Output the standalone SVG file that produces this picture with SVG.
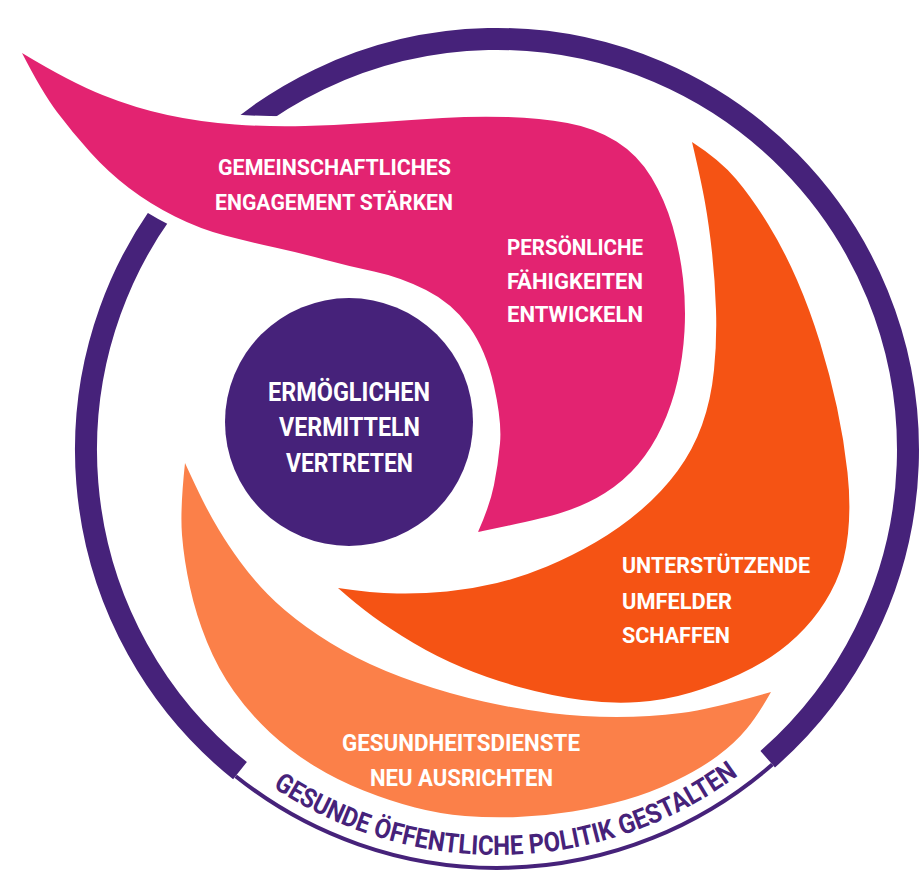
<svg xmlns="http://www.w3.org/2000/svg" width="923" height="879" viewBox="0 0 923 879">
<defs>
<style>
.lbl{font-family:Roboto,"Liberation Sans",Arial,sans-serif;font-weight:700;fill:#ffffff;}
.s22{font-size:22.5px}
.s23{font-size:23px}
.s25{font-size:25px}
.ringline{fill:none;stroke:#46227A}
.ringtxt{font-family:Roboto,"Liberation Sans",Arial,sans-serif;font-weight:700;font-size:27px;fill:#46227A}
</style>
<path id="arcText" d="M236.7,760.2 A405,405 0 0 0 783.4,736.4"/>
</defs>
<rect width="923" height="879" fill="#ffffff"/>
<g id="outer-ring">
<path class="ringline" stroke-width="22" d="M240.0,770.7 A411,411 0 1 1 767.7,759.2"/>
<path class="ringline" stroke-width="4" d="M235.7,776.2 A418,418 0 0 0 772.3,764.5"/>
<text class="ringtxt"><textPath href="#arcText" startOffset="45.2" textLength="104.7" lengthAdjust="spacingAndGlyphs">GESUNDE</textPath></text>
<text class="ringtxt"><textPath href="#arcText" startOffset="156" textLength="153.3" lengthAdjust="spacingAndGlyphs">ÖFFENTLICHE</textPath></text>
<text class="ringtxt"><textPath href="#arcText" startOffset="315.4" textLength="88" lengthAdjust="spacingAndGlyphs">POLITIK</textPath></text>
<text class="ringtxt"><textPath href="#arcText" startOffset="409.5" textLength="131.7" lengthAdjust="spacingAndGlyphs">GESTALTEN</textPath></text>
</g>
<g id="node-pink">
<path fill="#E32371" stroke="#ffffff" stroke-width="20" paint-order="stroke" d="M22,53 Q70,82 102.5,95 Q135,108 167.5,115 Q200,122 235,124.5 Q270,127 305,126 Q340,125 375,122.5 Q410,120 442.5,118 Q475,116 507.5,117 Q540,118 567.5,123 Q595,128 616.5,141.5 Q638,155 651.5,177.5 Q665,200 672.5,226 Q680,252 683,278.5 Q686,305 684.5,331 Q683,357 677.5,381 Q672,405 662,426.5 Q652,448 638,464.5 Q624,481 605,493 Q586,505 562,512.5 Q538,520 478,532 Q490,505 494,485 Q498,465 500,443.5 Q502,422 494,386 Q486,350 469,326.5 Q452,303 426,290 Q400,277 374,271.5 Q348,266 324,259.5 Q300,253 275,247.5 Q250,242 225,235.5 Q200,229 175,216.5 Q150,204 129,188 Q108,172 90,152 Q72,132 57,112 Q42,92 22,53 Z"/>
<text class="lbl s22" x="218" y="175" textLength="233" lengthAdjust="spacingAndGlyphs">GEMEINSCHAFTLICHES</text>
<text class="lbl s22" x="215" y="210" textLength="238" lengthAdjust="spacingAndGlyphs">ENGAGEMENT STÄRKEN</text>
<text class="lbl s22" x="507" y="255" textLength="136" lengthAdjust="spacingAndGlyphs">PERSÖNLICHE</text>
<text class="lbl s22" x="507" y="289" textLength="136" lengthAdjust="spacingAndGlyphs">FÄHIGKEITEN</text>
<text class="lbl s22" x="507" y="322" textLength="136" lengthAdjust="spacingAndGlyphs">ENTWICKELN</text>
</g>
<g id="node-orange">
<path fill="#F55314" d="M692,142 Q720,160 736,179 Q752,198 768,224 Q784,250 797,280 Q810,310 820,342.5 Q830,375 837,407.5 Q844,440 847.5,472.5 Q851,505 848,533.5 Q845,562 835.5,582.5 Q826,603 812,620 Q798,637 780,650.5 Q762,664 739,674.5 Q716,685 691,692.5 Q666,700 639,702 Q612,704 582,700 Q552,696 521,687.5 Q490,679 463.5,668 Q437,657 413.5,643 Q390,629 373,616.5 Q356,604 338,588 Q372,593 397,593.5 Q422,594 447,591.5 Q472,589 497,583 Q522,577 547,566.5 Q572,556 596,542 Q620,528 641,510 Q662,492 677.5,471 Q693,450 702,425 Q711,400 714,370 Q717,340 716,310 Q715,280 712,252.5 Q709,225 705,202.5 Q701,180 692,142 Z"/>
<text class="lbl s22" x="622" y="573" textLength="188" lengthAdjust="spacingAndGlyphs">UNTERSTÜTZENDE</text>
<text class="lbl s22" x="622" y="609" textLength="110" lengthAdjust="spacingAndGlyphs">UMFELDER</text>
<text class="lbl s22" x="622" y="643" textLength="108" lengthAdjust="spacingAndGlyphs">SCHAFFEN</text>
</g>
<g id="node-lightorange">
<path fill="#FB8049" d="M185,463 Q196,487 203,501 Q210,515 219,530 Q228,545 240,561.5 Q252,578 267.5,594 Q283,610 306.5,627 Q330,644 356.5,657.5 Q383,671 416.5,682.5 Q450,694 483.5,701.5 Q517,709 550,713 Q583,717 616.5,717 Q650,717 681,713 Q712,709 771,692 Q758,715 746.5,729 Q735,743 717.5,756 Q700,769 675,781 Q650,793 625,800 Q600,807 572.5,811.5 Q545,816 517.5,817 Q490,818 465,816 Q440,814 415,807.5 Q390,801 363.5,790.5 Q337,780 313.5,765.5 Q290,751 270,732.5 Q250,714 234,691.5 Q218,669 207,642 Q196,615 190,587.5 Q184,560 182,535 Q180,510 185,463 Z"/>
<text class="lbl s23" x="342" y="751" textLength="238" lengthAdjust="spacingAndGlyphs">GESUNDHEITSDIENSTE</text>
<text class="lbl s23" x="370" y="786" textLength="183" lengthAdjust="spacingAndGlyphs">NEU AUSRICHTEN</text>
</g>
<g id="node-center">
<circle cx="349" cy="422" r="124" fill="#46227A"/>
<text class="lbl s25" x="268" y="401" textLength="162" lengthAdjust="spacingAndGlyphs">ERMÖGLICHEN</text>
<text class="lbl s25" x="279" y="436" textLength="141" lengthAdjust="spacingAndGlyphs">VERMITTELN</text>
<text class="lbl s25" x="286" y="472" textLength="127" lengthAdjust="spacingAndGlyphs">VERTRETEN</text>
</g>
<g id="connectors"/>
</svg>
